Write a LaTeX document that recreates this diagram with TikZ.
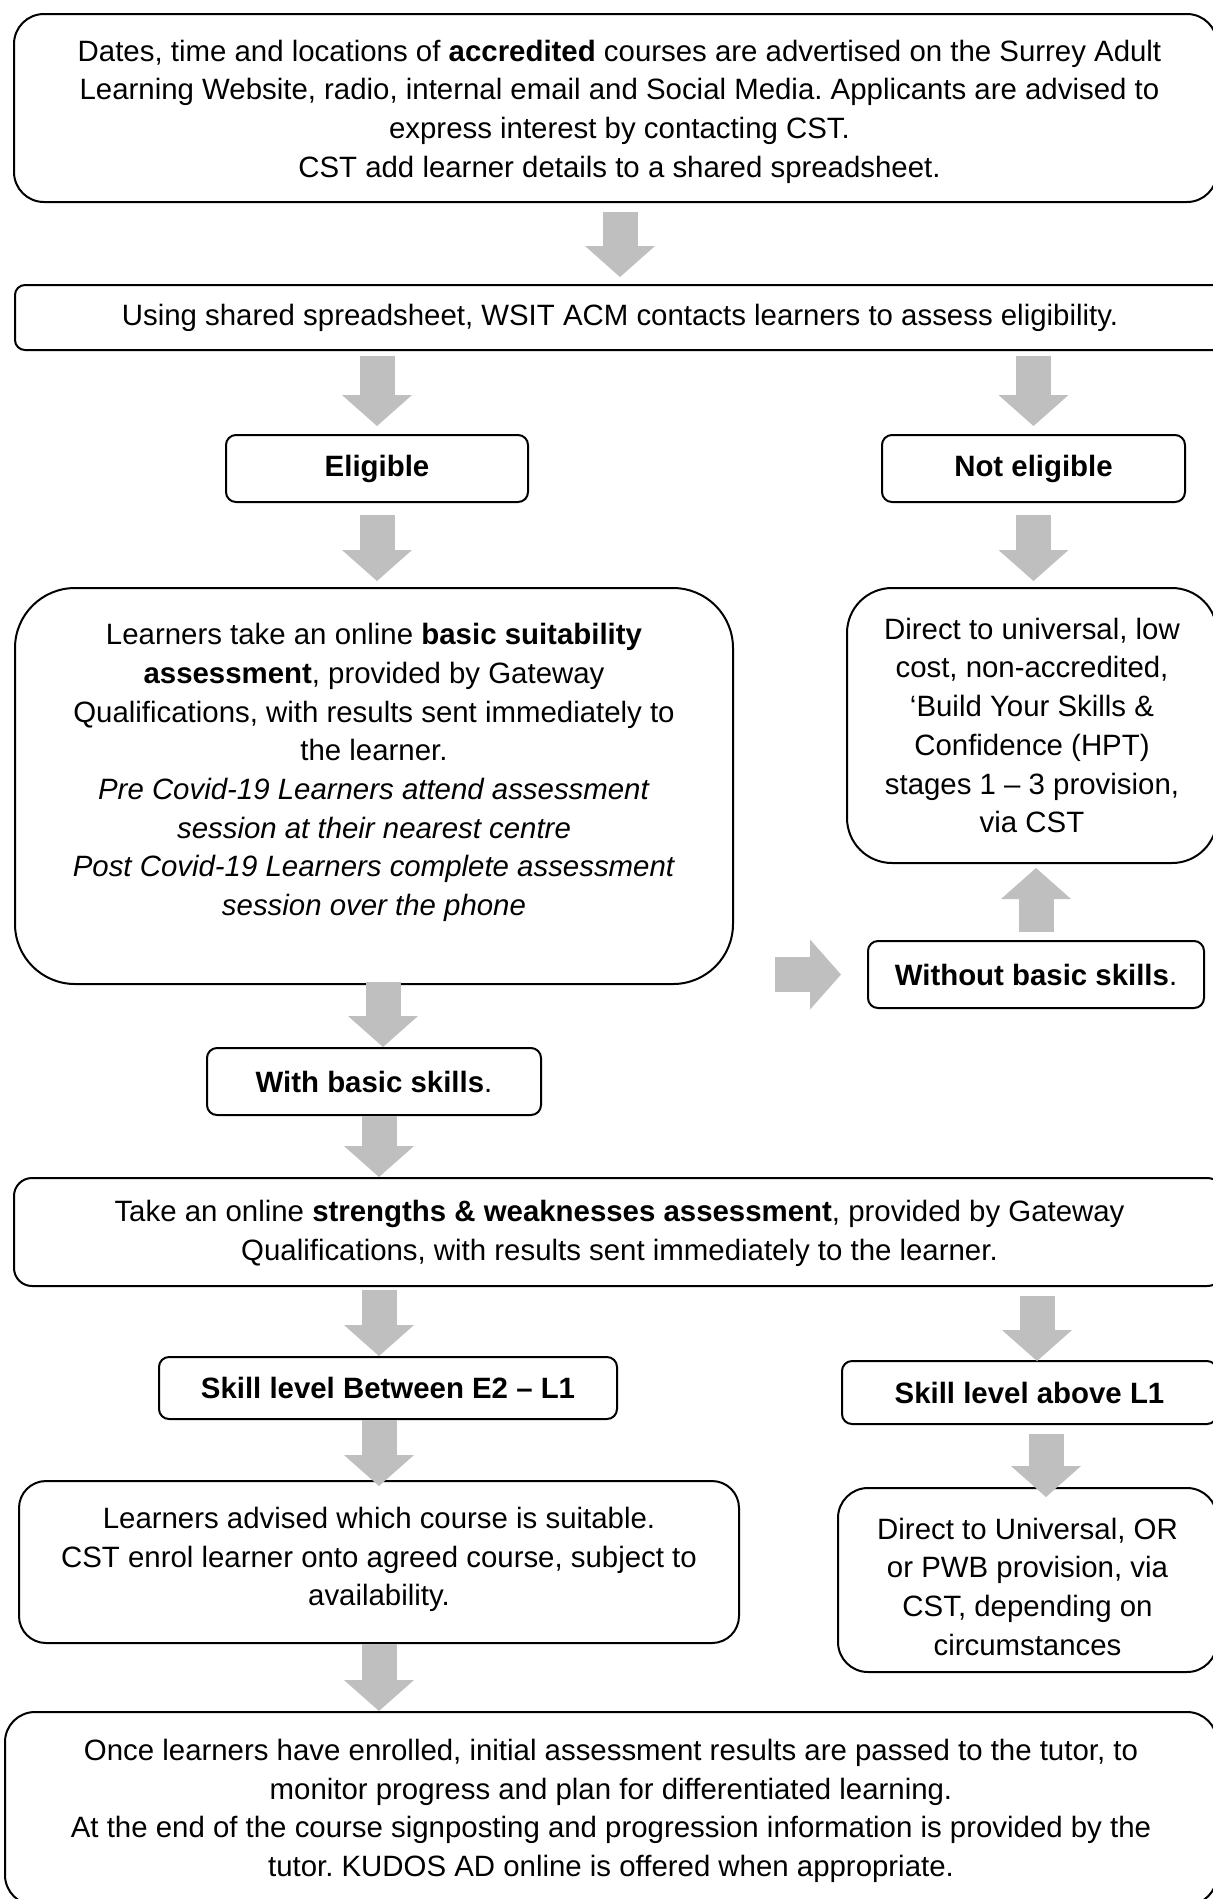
\documentclass[tikz,border=0pt]{standalone}
\usepackage{fontspec}
\setmainfont{Liberation Sans}
\usetikzlibrary{arrows.meta}
\definecolor{arrowgrey}{HTML}{BFBFBF}
\frenchspacing
\tikzset{
  box/.style={draw=black, line width=2pt, fill=white, inner sep=0pt, align=center,
              font=\fontsize{29.4pt}{38.7pt}\selectfont\frenchspacing},
  txt/.style={inner sep=0pt, align=center, font=\fontsize{29.4pt}{38.7pt}\selectfont\frenchspacing},
  barrow/.style={draw=arrowgrey, line width=35pt,
                 -{Triangle[width=70pt,length=31pt,line width=0pt]}},
}
\begin{document}
\begin{tikzpicture}[x=1pt,y=1pt]
\useasboundingbox (0,0) rectangle (1213,-1899);
\clip (0,0) rectangle (1213,-1899);
\fill[white] (0,0) rectangle (1213,-1899);

% boxes
\node[box, rounded corners=30pt, minimum width=1203pt, minimum height=188pt] (adv) at (615.5,-108) {};
\node[txt] (advtext) at (619.5,-111.6)
 {Dates, time and locations of \textbf{accredited} courses are advertised on the Surrey Adult\\
  Learning Website, radio, internal email and Social Media. Applicants are advised to\\
  express interest by contacting CST.\\
  CST add learner details to a shared spreadsheet.};

\node[box, rounded corners=10pt, minimum width=1210pt, minimum height=65pt] (contact) at (620,-317.5)
 {Using shared spreadsheet, WSIT ACM contacts learners to assess eligibility.};

\node[box, rounded corners=10pt, minimum width=302pt, minimum height=67pt] (elig) at (377,-468.5)
 {\textbf{Eligible}};
\node[box, rounded corners=10pt, minimum width=303pt, minimum height=67pt] (notelig) at (1033.5,-468.5)
 {\textbf{Not eligible}};

\node[box, rounded corners=60pt, minimum width=718pt, minimum height=396pt] (suit) at (374,-786) {};
\node[txt] (suittext) at (374,-772.5)
 {Learners take an online \textbf{basic suitability}\\
  \textbf{assessment}, provided by Gateway\\
  Qualifications, with results sent immediately to\\
  the learner.\\
  \textit{Pre Covid-19 Learners attend assessment}\\
  \textit{session at their nearest centre}\\
  \textit{Post Covid-19 Learners complete assessment}\\
  \textit{session over the phone}};

\node[box, rounded corners=45pt, minimum width=370pt, minimum height=275pt] (direct1) at (1032,-725.5)
 {Direct to universal, low\\
  cost, non-accredited,\\
  ‘Build Your Skills \&\\
  Confidence (HPT)\\
  stages 1 – 3 provision,\\
  via CST};

\node[box, rounded corners=10pt, minimum width=336pt, minimum height=67pt] (without) at (1036,-974.5)
 {\textbf{Without basic skills}.};
\node[box, rounded corners=10pt, minimum width=334pt, minimum height=67pt] (withb) at (374,-1081.5)
 {\textbf{With basic skills}.};

\node[box, rounded corners=18pt, minimum width=1211pt, minimum height=108pt] (sw) at (619.5,-1232) {};
\node[txt] (swtext) at (619.5,-1233.2)
 {Take an online \textbf{strengths \& weaknesses assessment}, provided by Gateway\\
  Qualifications, with results sent immediately to the learner.};

\node[box, rounded corners=10pt, minimum width=458pt, minimum height=62pt] (e2) at (388,-1388)
 {\textbf{Skill level Between E2 – L1}};
\node[box, rounded corners=10pt, minimum width=375pt, minimum height=63pt] (abovel1) at (1029.5,-1392.5)
 {\textbf{Skill level above L1}};

\node[box, rounded corners=27pt, minimum width=720pt, minimum height=162pt] (advised) at (379,-1562) {};
\node[txt] (advisedtext) at (379,-1559.6)
 {Learners advised which course is suitable.\\
  CST enrol learner onto agreed course, subject to\\
  availability.};
\node[box, rounded corners=30pt, minimum width=379pt, minimum height=184pt] (direct2) at (1027.5,-1580) {};
\node[txt] (direct2text) at (1027.5,-1586.6)
 {Direct to Universal, OR\\
  or PWB provision, via\\
  CST, depending on\\
  circumstances};

\node[box, rounded corners=30pt, minimum width=1212pt, minimum height=193pt] (final) at (611,-1808.5) {};
\node[txt] (finaltext) at (611,-1811)
 {Once learners have enrolled, initial assessment results are passed to the tutor, to\\
  monitor progress and plan for differentiated learning.\\
  At the end of the course signposting and progression information is provided by the\\
  tutor. KUDOS AD online is offered when appropriate.};

% block arrows
\draw[barrow] ([yshift=-9pt]adv.south -| contact.north) -- ([yshift=7pt]contact.north);
\draw[barrow] ([yshift=-5pt]contact.south -| elig.north) -- ([yshift=8pt]elig.north);
\draw[barrow] ([yshift=-5pt]contact.south -| notelig.north) -- ([yshift=8pt]notelig.north);
\draw[barrow] ([yshift=-12pt]elig.south) -- ([yshift=6pt]suit.north -| elig.south);
\draw[barrow] ([yshift=-12pt]notelig.south) -- ([yshift=6pt]direct1.north -| notelig.south);
\draw[barrow] ([yshift=8pt]without.north) -- ([yshift=-4pt]direct1.south -| without.north);
\draw[barrow] ([xshift=41pt]suit.east |- without.west) -- ([xshift=-26pt]without.west);
\draw[barrow] ([xshift=9pt,yshift=3pt]suit.south -| withb.north) -- ([xshift=9pt]withb.north);
\draw[barrow] ([xshift=5pt]withb.south) -- ([xshift=5pt]sw.north -| withb.south);
\draw[barrow] ([xshift=-9pt,yshift=-3pt]sw.south -| e2.north) -- ([xshift=-9pt]e2.north);
\draw[barrow] ([xshift=7.5pt,yshift=-9pt]sw.south -| abovel1.north) -- ([xshift=7.5pt,yshift=-1pt]abovel1.north);
\draw[barrow] (e2.south -| advised.north) -- ([yshift=-6pt]advised.north);
\draw[barrow] ([xshift=16.5pt,yshift=-9pt]abovel1.south) -- ([xshift=16.5pt,yshift=-10pt]direct2.north -| abovel1.south);
\draw[barrow] (advised.south) -- (final.north -| advised.south);
\end{tikzpicture}
\end{document}
